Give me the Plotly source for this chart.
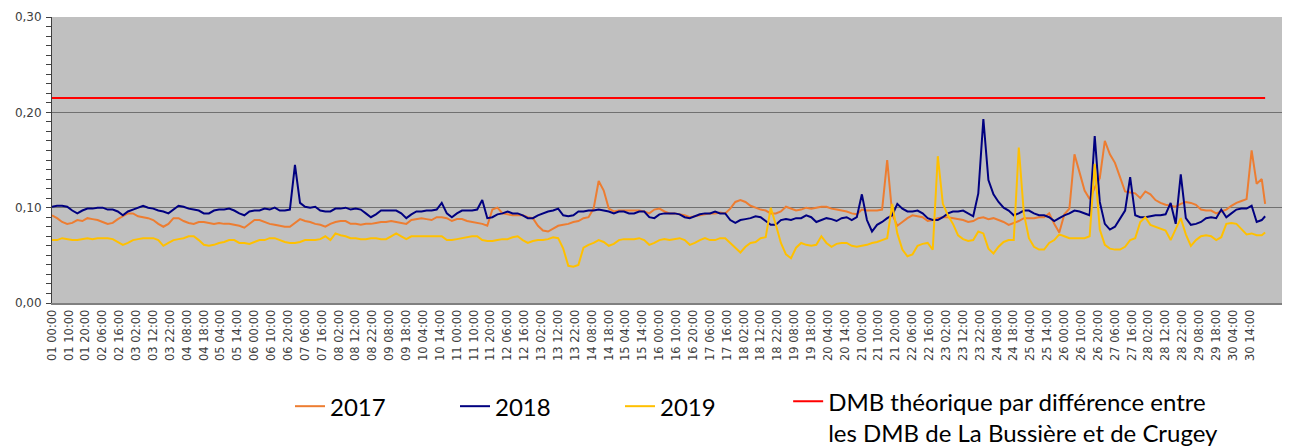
import plotly.graph_objects as go

hours = list(range(0, 720, 3)) + [719]

tick_hours = list(range(0, 720, 10))
tick_labels = [
    "01 00:00", "01 10:00", "01 20:00", "02 06:00", "02 16:00", "03 02:00", "03 12:00", "03 22:00",
    "04 08:00", "04 18:00", "05 04:00", "05 14:00", "06 00:00", "06 10:00", "06 20:00", "07 06:00",
    "07 16:00", "08 02:00", "08 12:00", "08 22:00", "09 08:00", "09 18:00", "10 04:00", "10 14:00",
    "11 00:00", "11 10:00", "11 20:00", "12 06:00", "12 16:00", "13 02:00", "13 12:00", "13 22:00",
    "14 08:00", "14 18:00", "15 04:00", "15 14:00", "16 00:00", "16 10:00", "16 20:00", "17 06:00",
    "17 16:00", "18 02:00", "18 12:00", "18 22:00", "19 08:00", "19 18:00", "20 04:00", "20 14:00",
    "21 00:00", "21 10:00", "21 20:00", "22 06:00", "22 16:00", "23 02:00", "23 12:00", "23 22:00",
    "24 08:00", "24 18:00", "25 04:00", "25 14:00", "26 00:00", "26 10:00", "26 20:00", "27 06:00",
    "27 16:00", "28 02:00", "28 12:00", "28 22:00", "29 08:00", "29 18:00", "30 04:00", "30 14:00",
]

y2017 = [
    0.092, 0.089, 0.085, 0.083, 0.084, 0.087, 0.086, 0.089, 0.088, 0.087,
    0.085, 0.083, 0.084, 0.088, 0.091, 0.094, 0.094, 0.091, 0.090, 0.089,
    0.087, 0.083, 0.080, 0.083, 0.089, 0.089, 0.086, 0.084, 0.083, 0.085,
    0.085, 0.084, 0.083, 0.084, 0.083, 0.083, 0.082, 0.081, 0.079, 0.083,
    0.087, 0.087, 0.085, 0.083, 0.082, 0.081, 0.080, 0.080, 0.084, 0.088,
    0.086, 0.085, 0.083, 0.082, 0.080, 0.083, 0.085, 0.086, 0.086, 0.083,
    0.083,
    0.082, 0.083, 0.083, 0.084, 0.085, 0.085, 0.086, 0.085, 0.084, 0.083,
    0.087, 0.088, 0.089, 0.088, 0.087, 0.090, 0.090, 0.089, 0.086, 0.088,
    0.088, 0.086, 0.085, 0.084, 0.083, 0.081, 0.098, 0.100, 0.094, 0.093,
    0.092, 0.092, 0.092, 0.090, 0.089, 0.081, 0.076, 0.075, 0.078, 0.081,
    0.082, 0.083, 0.085, 0.086, 0.089, 0.090, 0.099, 0.128, 0.118, 0.099,
    0.096, 0.097, 0.097, 0.097, 0.097, 0.097, 0.096, 0.094, 0.098, 0.099,
    0.096, 0.094, 0.094, 0.093, 0.092, 0.090, 0.091, 0.092, 0.093, 0.094,
    0.094, 0.095, 0.094, 0.099, 0.106, 0.108, 0.106, 0.102, 0.100, 0.098,
    0.097, 0.094, 0.094, 0.096, 0.101, 0.099, 0.097, 0.098, 0.100, 0.099,
    0.100, 0.101, 0.101, 0.099, 0.098, 0.097, 0.096, 0.094, 0.093, 0.098,
    0.097, 0.097, 0.097, 0.098, 0.150, 0.093, 0.081, 0.085, 0.089, 0.092,
    0.091, 0.090, 0.086, 0.087, 0.089, 0.090, 0.090, 0.089, 0.088, 0.087,
    0.085,
    0.086, 0.089, 0.090, 0.088, 0.089, 0.087, 0.085, 0.082, 0.084, 0.086,
    0.089, 0.089, 0.089, 0.090, 0.090, 0.094, 0.083, 0.074, 0.093, 0.099,
    0.156, 0.137, 0.118, 0.109, 0.121, 0.131, 0.170, 0.156, 0.147, 0.132,
    0.117, 0.116, 0.115, 0.110, 0.117, 0.114, 0.108, 0.105, 0.103, 0.102,
    0.101, 0.104, 0.106, 0.105, 0.103, 0.098, 0.097, 0.097, 0.094, 0.096,
    0.098, 0.102, 0.105, 0.107, 0.109, 0.160, 0.125, 0.130,
    0.104,
]

y2018 = [
    0.101, 0.102, 0.102, 0.101, 0.097, 0.094, 0.097, 0.099, 0.099, 0.100,
    0.100, 0.098, 0.098, 0.096, 0.092, 0.096, 0.098, 0.100, 0.102, 0.100,
    0.099, 0.097, 0.096, 0.094, 0.098, 0.102, 0.101, 0.099, 0.098, 0.097,
    0.094, 0.094, 0.097, 0.098, 0.098, 0.099, 0.097, 0.094, 0.092, 0.096,
    0.097, 0.097, 0.099, 0.098, 0.100, 0.097, 0.097, 0.098, 0.145, 0.105,
    0.101, 0.100, 0.101, 0.097, 0.096, 0.096, 0.099, 0.099, 0.100, 0.098,
    0.099,
    0.098, 0.094, 0.090, 0.093, 0.097, 0.097, 0.097, 0.097, 0.094, 0.089,
    0.093, 0.096, 0.096, 0.097, 0.097, 0.098, 0.105, 0.094, 0.090, 0.094,
    0.097, 0.097, 0.097, 0.098, 0.108, 0.089, 0.090, 0.093, 0.094, 0.096,
    0.094, 0.094, 0.092, 0.089, 0.089, 0.092, 0.094, 0.096, 0.097, 0.099,
    0.092, 0.091, 0.092, 0.096, 0.096, 0.097, 0.097, 0.098, 0.097, 0.096,
    0.094, 0.096, 0.096, 0.094, 0.094, 0.096, 0.096, 0.090, 0.089, 0.093,
    0.094, 0.094, 0.094, 0.093, 0.090, 0.089, 0.091, 0.093, 0.094, 0.094,
    0.096, 0.094, 0.094, 0.087, 0.084, 0.087, 0.088, 0.089, 0.091, 0.090,
    0.086, 0.082, 0.082, 0.087, 0.088, 0.087, 0.089, 0.089, 0.092, 0.090,
    0.085, 0.087, 0.089, 0.088, 0.086, 0.089, 0.090, 0.087, 0.090, 0.114,
    0.087, 0.075, 0.082, 0.085, 0.089, 0.092, 0.104, 0.099, 0.096, 0.096,
    0.097, 0.094, 0.089, 0.087, 0.087, 0.090, 0.094, 0.096, 0.096, 0.097,
    0.094,
    0.091, 0.115, 0.193, 0.129, 0.114, 0.106, 0.100, 0.097, 0.092, 0.094,
    0.097, 0.097, 0.094, 0.092, 0.092, 0.090, 0.086, 0.089, 0.092, 0.094,
    0.097, 0.096, 0.094, 0.092, 0.175, 0.106, 0.083, 0.077, 0.080, 0.089,
    0.097, 0.132, 0.092, 0.090, 0.090, 0.091, 0.092, 0.092, 0.093, 0.105,
    0.083, 0.135, 0.089, 0.082, 0.083, 0.085, 0.089, 0.090, 0.089, 0.098,
    0.090, 0.094, 0.098, 0.099, 0.099, 0.102, 0.085, 0.087,
    0.091,
]

y2019 = [
    0.066, 0.066, 0.068, 0.067, 0.066, 0.066, 0.067, 0.068, 0.067, 0.068,
    0.068, 0.068, 0.067, 0.064, 0.061, 0.063, 0.066, 0.067, 0.068, 0.068,
    0.068, 0.066, 0.060, 0.063, 0.066, 0.067, 0.068, 0.070, 0.070, 0.066,
    0.061, 0.060, 0.061, 0.063, 0.064, 0.066, 0.066, 0.063, 0.063, 0.062,
    0.064, 0.066, 0.066, 0.068, 0.068, 0.066, 0.064, 0.063, 0.063, 0.064,
    0.066, 0.066, 0.066, 0.067, 0.070, 0.066, 0.073, 0.071, 0.070, 0.068,
    0.068,
    0.067, 0.067, 0.068, 0.068, 0.067, 0.067, 0.070, 0.073, 0.070, 0.067,
    0.070, 0.070, 0.070, 0.070, 0.070, 0.070, 0.070, 0.066, 0.066, 0.067,
    0.068, 0.069, 0.070, 0.070, 0.066, 0.065, 0.065, 0.066, 0.067, 0.067,
    0.069, 0.070, 0.066, 0.063, 0.065, 0.066, 0.066, 0.067, 0.069, 0.068,
    0.057, 0.039, 0.038, 0.040, 0.058, 0.061, 0.063, 0.066, 0.064, 0.060,
    0.062, 0.066, 0.067, 0.067, 0.067, 0.068, 0.066, 0.061, 0.063, 0.066,
    0.067, 0.066, 0.067, 0.068, 0.066, 0.061, 0.063, 0.066, 0.068, 0.066,
    0.066, 0.068, 0.068, 0.063, 0.057, 0.053, 0.059, 0.063, 0.064, 0.068,
    0.069, 0.100, 0.082, 0.063, 0.051, 0.047, 0.058, 0.063, 0.061, 0.060,
    0.061, 0.070, 0.063, 0.059, 0.062, 0.063, 0.063, 0.060, 0.059, 0.060,
    0.061, 0.063, 0.064, 0.066, 0.068, 0.104, 0.073, 0.056, 0.049, 0.051,
    0.060, 0.062, 0.063, 0.056, 0.154, 0.104, 0.092, 0.083, 0.071, 0.067,
    0.065,
    0.066, 0.075, 0.073, 0.057, 0.052, 0.059, 0.064, 0.066, 0.066, 0.163,
    0.094, 0.068, 0.059, 0.056, 0.056, 0.063, 0.066, 0.072, 0.070, 0.068,
    0.068, 0.068, 0.068, 0.070, 0.146, 0.077, 0.061, 0.057, 0.056, 0.056,
    0.059, 0.066, 0.068, 0.085, 0.090, 0.082, 0.080, 0.078, 0.076, 0.066,
    0.077, 0.089, 0.072, 0.060, 0.066, 0.070, 0.071, 0.070, 0.066, 0.069,
    0.083, 0.084, 0.083, 0.078, 0.072, 0.073, 0.071, 0.071,
    0.074,
]

dmb_theorique = 0.215

series_names = ["2017", "2018", "2019"]
series_colors = ["#ED7D31", "#000080", "#FFC000"]
red_name = "DMB théorique par différence entre<br>les DMB de La Bussière et de Crugey"

fig = go.Figure()
for name, ys, col in zip(series_names, [y2017, y2018, y2019], series_colors):
    fig.add_trace(go.Scatter(x=hours, y=ys, mode="lines", name=name,
                             line=dict(color=col, width=2), legend="legend"))
fig.add_trace(go.Scatter(x=[hours[0], hours[-1]], y=[dmb_theorique, dmb_theorique],
                         mode="lines", name=red_name, legend="legend2",
                         line=dict(color="#FF0000", width=2)))

legend_font = dict(family="Lato", size=24, color="black")
fig.update_layout(
    width=1288, height=438, autosize=False,
    margin=dict(l=44, r=14, t=9, b=143, autoexpand=False),
    paper_bgcolor="white", plot_bgcolor="#C0C0C0",
    separators=", ",
    showlegend=True,
    legend=dict(orientation="h", x=0.1935, xanchor="left", y=-0.2835, yanchor="top",
                font=legend_font, valign="top", entrywidth=120, itemwidth=30,
                bgcolor="rgba(0,0,0,0)", traceorder="normal"),
    legend2=dict(orientation="h", x=0.5985, xanchor="left", y=-0.266, yanchor="top",
                 font=legend_font, valign="top", itemwidth=30,
                 bgcolor="rgba(0,0,0,0)"),
)
fig.update_xaxes(range=[0, 729], tickmode="array", tickvals=tick_hours, ticktext=tick_labels,
                 tickangle=-90, tickfont=dict(family="DejaVu Sans", size=11.5, color="#404040"),
                 showgrid=False, zeroline=False, showline=True, linecolor="#808080",
                 linewidth=2, ticks="", automargin=False)
fig.update_yaxes(range=[0, 0.30], tickmode="array", tickvals=[0, 0.1, 0.2, 0.3],
                 tickformat=".2f", tickfont=dict(family="DejaVu Sans", size=12, color="#404040"),
                 showgrid=True, gridcolor="#707070", gridwidth=1, zeroline=False,
                 showline=True, linecolor="#404040", linewidth=1, automargin=False,
                 ticks="outside", ticklen=5, tickcolor="#404040", ticklabelstandoff=2,
                 minor=dict(dtick=0.01, ticks="outside", ticklen=5, tickcolor="#404040",
                            showgrid=False))

fig.write_html("out.html")
